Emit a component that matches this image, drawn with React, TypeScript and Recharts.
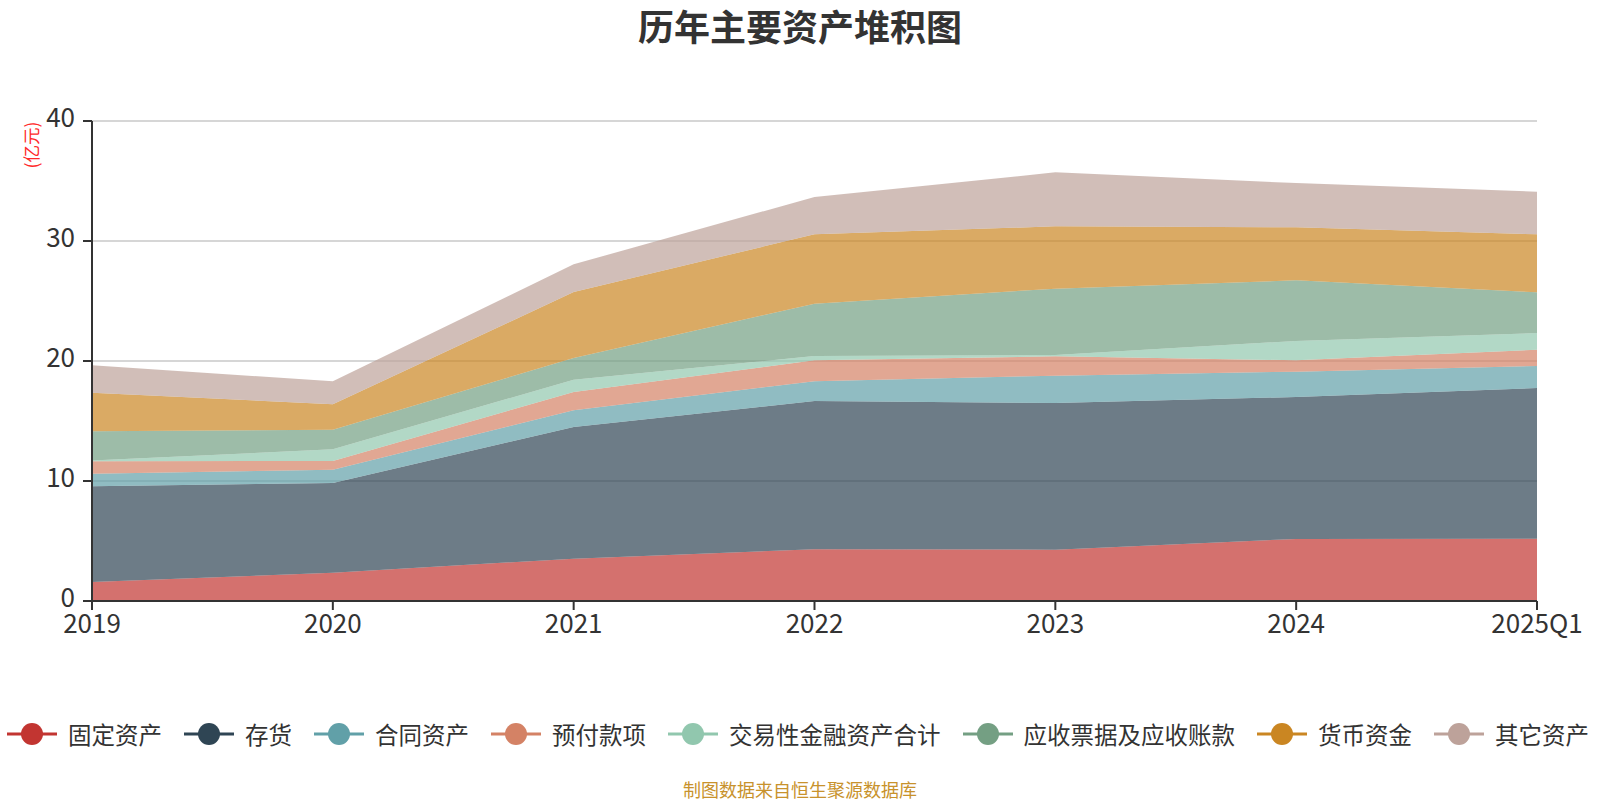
import { AreaChart, Area, XAxis, YAxis, CartesianGrid } from 'recharts'

const categories = ['2019', '2020', '2021', '2022', '2023', '2024', '2025Q1']

// 单位：亿元
const fixedAssets = [1.58, 2.36, 3.53, 4.31, 4.28, 5.17, 5.19]
const inventory = [7.98, 7.47, 10.97, 12.36, 12.22, 11.83, 12.56]
const contractAssets = [1.05, 1.11, 1.39, 1.64, 2.28, 2.11, 1.83]
const prepayments = [1.03, 0.73, 1.53, 1.75, 1.61, 0.95, 1.36]
const tradingFinancial = [0.06, 0.97, 1.02, 0.36, 0.11, 1.61, 1.39]
const receivables = [2.44, 1.64, 1.81, 4.36, 5.53, 5.05, 3.39]
const monetaryFunds = [3.22, 2.11, 5.5, 5.78, 5.19, 4.42, 4.84]
const otherAssets = [2.28, 1.92, 2.31, 3.11, 4.5, 3.69, 3.55]

const yTicks = [0, 10, 20, 30, 40]

const series = [
  { key: 'fixed', name: '固定资产', values: fixedAssets, color: '#c23531' },
  { key: 'inventory', name: '存货', values: inventory, color: '#2f4554' },
  { key: 'contract', name: '合同资产', values: contractAssets, color: '#61a0a8' },
  { key: 'prepay', name: '预付款项', values: prepayments, color: '#d48265' },
  { key: 'trading', name: '交易性金融资产合计', values: tradingFinancial, color: '#91c7ae' },
  { key: 'receivable', name: '应收票据及应收账款', values: receivables, color: '#749f83' },
  { key: 'money', name: '货币资金', values: monetaryFunds, color: '#ca8622' },
  { key: 'other', name: '其它资产', values: otherAssets, color: '#bda29a' },
]

const data = categories.map((c, i) => {
  const row: Record<string, string | number> = { year: c }
  series.forEach((s) => { row[s.key] = s.values[i] })
  return row
})

const FONT = '"Noto Sans CJK SC", "Noto Sans", sans-serif'

export default function App() {
  return (
    <div style={{ position: 'absolute', left: 0, top: 0, width: 1600, height: 800, background: '#fff', fontFamily: FONT }}>
      <div style={{
        position: 'absolute', left: 0, width: 1600, top: 1, textAlign: 'center',
        fontSize: 36, fontWeight: 'bold', color: '#333', lineHeight: '48px',
      }}>
        历年主要资产堆积图
      </div>

      <div style={{
        position: 'absolute', left: 31, top: 145, transform: 'translate(-50%, -50%) rotate(-90deg)',
        fontSize: 17.5, color: '#ff2a2a', whiteSpace: 'nowrap', lineHeight: '20px',
      }}>
        (亿元)
      </div>

      <AreaChart
        width={1600}
        height={800}
        data={data}
        margin={{ top: 121, right: 63, left: 32, bottom: 159 }}
      >
        <CartesianGrid vertical={false} stroke="#c8c8c8" strokeWidth={1.5} />
        <XAxis
          dataKey="year"
          height={40}
          stroke="#333"
          strokeWidth={2}
          tickSize={9}
          tickMargin={5}
          interval={0}
          tick={{ fill: '#333', fontSize: 26, fontFamily: FONT }}
        />
        <YAxis
          width={60}
          domain={[0, 40]}
          ticks={yTicks}
          stroke="#333"
          strokeWidth={2}
          tickSize={9}
          tickMargin={8}
          tick={{ fill: '#333', fontSize: 26, fontFamily: FONT, dy: -3 }}
        />
        {series.map((s) => (
          <Area
            key={s.key}
            type="linear"
            dataKey={s.key}
            name={s.name}
            stackId="1"
            stroke="none"
            fill={s.color}
            fillOpacity={0.7}
            isAnimationActive={false}
          />
        ))}
      </AreaChart>

      <div style={{
        position: 'absolute', left: 7, top: 714, height: 40, display: 'flex', alignItems: 'center',
        gap: 22, whiteSpace: 'nowrap',
      }}>
        {series.map((s) => (
          <div key={s.key} style={{ display: 'flex', alignItems: 'center', gap: 11 }}>
            <svg width={50} height={24}>
              <line x1={0} y1={12} x2={50} y2={12} stroke={s.color} strokeWidth={3} />
              <circle cx={25} cy={12} r={11} fill={s.color} />
            </svg>
            <span style={{ fontSize: 23.5, color: '#333', lineHeight: '32px' }}>{s.name}</span>
          </div>
        ))}
      </div>

      <div style={{
        position: 'absolute', left: 0, width: 1600, top: 776, textAlign: 'center',
        fontSize: 18, color: '#c8922c', lineHeight: '26px',
      }}>
        制图数据来自恒生聚源数据库
      </div>
    </div>
  )
}
